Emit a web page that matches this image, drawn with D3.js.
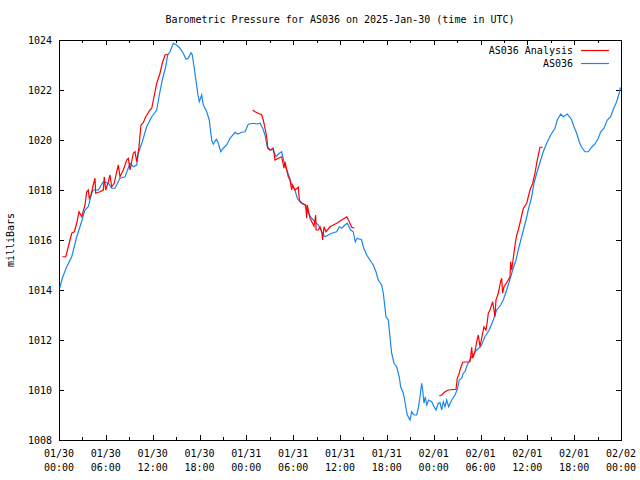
<!DOCTYPE html>
<html><head><meta charset="utf-8">
<script src="https://cdn.jsdelivr.net/npm/d3@7"></script>
<style>
body{margin:0;background:#fff;}
svg text{font-family:"DejaVu Sans Mono",monospace;font-size:10px;fill:#000;}
</style></head>
<body><svg id="c" width="640" height="480"></svg>
<script>
// Hours since 2025-01-30 00:00 UTC
const xTickHours = [0,6,12,18,24,30,36,42,48,54,60,66,72];
const xTickDates = ["01/30","01/30","01/30","01/30","01/31","01/31","01/31","01/31","02/01","02/01","02/01","02/01","02/02"];
const xTickTimes = ["00:00","06:00","12:00","18:00","00:00","06:00","12:00","18:00","00:00","06:00","12:00","18:00","00:00"];
const yTicks = [1008,1010,1012,1014,1016,1018,1020,1022,1024];

const stationHours = [0.13,0.42,0.99,1.63,2.27,2.69,3.33,3.75,4.19,4.39,5.03,5.68,6.32,6.75,7.17,7.81,8.46,9.10,9.52,9.95,10.16,10.67,11.23,11.88,12.52,12.81,13.23,13.67,13.93,14.22,14.64,15.08,15.50,15.92,16.27,16.56,16.91,17.08,17.42,17.77,17.97,18.28,18.49,18.92,19.25,19.56,19.77,20.15,20.41,20.72,21.05,21.48,21.91,22.55,22.89,23.41,23.83,24.25,24.89,25.40,25.75,26.10,26.39,26.68,27.03,27.45,27.80,28.22,28.53,28.82,29.17,29.50,29.81,30.23,30.53,30.87,31.51,31.94,32.37,32.80,33.22,33.65,34.08,34.50,34.93,35.58,35.91,36.22,36.64,36.93,37.37,37.70,37.96,38.21,38.78,38.98,39.42,39.84,40.26,40.61,40.90,41.34,41.55,41.89,42.19,42.40,42.62,42.92,43.26,43.59,43.77,44.11,44.32,44.62,44.97,45.18,45.48,45.82,46.03,46.25,46.46,46.59,46.76,46.93,47.11,47.36,47.75,48.04,48.30,48.59,48.81,49.03,49.23,49.45,49.67,49.92,50.31,50.73,51.03,51.28,51.59,51.79,52.01,52.30,52.87,53.51,54.02,54.57,55.12,55.64,56.07,56.58,56.92,57.35,57.69,58.12,58.55,58.84,59.27,59.83,60.12,60.56,60.85,61.20,61.62,62.04,62.48,62.99,63.54,63.84,64.27,64.61,65.12,65.46,65.68,65.98,66.32,66.65,66.96,67.38,67.81,68.24,68.66,69.09,69.40,69.82,70.24,70.68,71.01,71.45,71.78,71.93];
const stationPressure = [1014.1,1014.47,1014.93,1015.33,1016.13,1016.53,1017.2,1017.33,1017.87,1018.0,1018.0,1018.33,1018.27,1018.07,1018.07,1018.47,1018.53,1019.07,1018.93,1019.0,1019.47,1019.93,1020.53,1020.93,1021.2,1021.73,1022.4,1022.93,1023.4,1023.53,1023.87,1023.8,1023.67,1023.47,1023.23,1023.27,1023.49,1023.4,1022.67,1021.87,1021.53,1021.8,1021.4,1021.13,1020.8,1020.0,1019.83,1020.03,1019.87,1019.53,1019.67,1019.8,1020.07,1020.31,1020.24,1020.31,1020.33,1020.63,1020.67,1020.64,1020.67,1020.47,1020.2,1019.73,1019.6,1019.6,1019.33,1019.47,1019.53,1019.13,1018.8,1018.53,1018.2,1018.0,1017.67,1017.53,1017.4,1017.07,1016.87,1016.73,1016.6,1016.33,1016.13,1016.2,1016.27,1016.33,1016.53,1016.47,1016.6,1016.67,1016.4,1016.33,1015.93,1016.07,1016.0,1015.73,1015.4,1015.2,1015.0,1014.73,1014.4,1014.2,1013.87,1012.93,1012.8,1012.13,1011.47,1011.07,1010.93,1010.53,1010.13,1009.87,1009.53,1009.0,1008.8,1009.13,1009.0,1009.0,1009.27,1009.73,1010.27,1010.0,1009.47,1009.73,1009.4,1009.6,1009.53,1009.33,1009.2,1009.47,1009.5,1009.2,1009.53,1009.33,1009.6,1009.33,1009.6,1009.8,1010.03,1010.4,1010.47,1010.67,1010.73,1011.0,1011.33,1011.6,1011.73,1012.13,1012.4,1012.8,1013.2,1013.4,1013.6,1014.0,1014.33,1014.8,1015.2,1015.6,1016.13,1016.8,1017.2,1017.73,1018.27,1018.67,1019.1,1019.53,1019.87,1020.2,1020.47,1020.8,1021.04,1020.93,1021.04,1020.91,1020.8,1020.53,1020.27,1019.93,1019.71,1019.53,1019.53,1019.71,1019.84,1020.07,1020.33,1020.47,1020.8,1020.93,1021.23,1021.53,1021.89,1022.1];

// Analysis series; null marks a gap between segments
const analysisHours = [0.42,0.86,1.19,1.63,1.96,2.27,2.56,2.91,3.33,3.55,3.75,3.88,4.10,4.39,4.61,4.70,5.25,5.68,5.80,5.98,6.32,6.53,6.75,7.08,7.39,7.60,7.81,8.24,8.67,8.88,9.10,9.52,9.74,9.95,10.25,10.50,10.80,11.11,11.66,11.88,12.17,12.52,12.94,13.23,13.58,13.93,
  19.0,
  24.81,25.11,25.53,25.97,26.17,26.39,26.61,26.74,27.03,27.45,27.67,28.09,28.53,28.66,28.82,28.95,29.37,29.59,29.81,29.94,30.23,30.66,30.79,31.09,31.60,31.73,31.81,32.16,32.67,32.89,32.93,33.22,33.44,33.65,33.78,33.95,34.20,34.72,35.58,36.22,36.86,37.19,37.50,37.83,
  43.0,
  48.72,49.03,49.45,49.87,50.86,51.03,51.28,51.37,51.72,52.65,52.87,52.99,53.29,53.51,53.72,53.93,54.15,54.44,54.70,54.87,55.00,55.22,55.56,55.86,55.98,56.28,56.58,56.71,56.84,57.01,57.43,57.78,57.87,58.00,58.20,58.42,58.64,58.84,59.15,59.49,59.92,60.34,60.69,60.98,61.27,61.62,61.96];
const analysisPressure = [1015.33,1015.33,1015.73,1016.27,1016.33,1016.67,1017.13,1016.93,1017.4,1017.93,1018.0,1017.67,1017.8,1018.2,1018.47,1017.87,1017.93,1018.0,1018.53,1018.0,1018.33,1018.6,1018.13,1018.27,1018.73,1019.0,1018.53,1018.8,1019.2,1019.27,1018.8,1019.47,1019.53,1019.13,1019.73,1020.6,1020.69,1020.93,1021.2,1021.27,1021.73,1022.27,1022.67,1023.07,1023.4,1023.43,
  null,
  1021.2,1021.13,1021.07,1021.0,1020.8,1020.47,1020.13,1019.67,1019.6,1019.67,1019.2,1019.27,1019.33,1019.13,1018.87,1019.13,1018.53,1018.4,1018.0,1018.2,1018.0,1018.11,1017.6,1017.47,1017.4,1016.87,1017.4,1016.87,1016.56,1017.0,1016.4,1016.4,1016.53,1016.33,1016.0,1016.53,1016.33,1016.53,1016.67,1016.8,1016.93,1016.73,1016.51,1016.47,
  null,
  1009.77,1009.8,1009.93,1010.0,1010.03,1010.47,1010.67,1010.8,1011.11,1011.13,1011.71,1011.27,1011.53,1011.93,1012.2,1011.73,1012.07,1012.53,1012.4,1012.73,1013.07,1013.2,1013.53,1012.93,1013.6,1013.87,1014.33,1014.47,1013.87,1014.13,1014.33,1014.53,1015.13,1014.8,1015.27,1015.8,1016.2,1016.4,1016.8,1017.27,1017.47,1018.0,1018.27,1018.67,1019.2,1019.71,1019.71];

const seriesNames = ["AS036 Analysis","AS036"];
const seriesColors = ["#ff0000","#1a86ee"];

const L=59, R=621, T=40, B=440;
const svg = d3.select("#c");
const x = d3.scaleLinear().domain([0,72]).range([L,R]);
const y = d3.scaleLinear().domain([1008,1024]).range([B,T]);

const minorHours = d3.range(3,72,6);

// axes with inward ticks
svg.append("g").attr("transform",`translate(0,${B})`)
  .call(d3.axisBottom(x).tickValues(xTickHours).tickSize(-5).tickFormat(""));
svg.append("g").attr("transform",`translate(0,${B})`)
  .call(d3.axisBottom(x).tickValues(minorHours).tickSize(-3).tickFormat(""));
svg.append("g").attr("transform",`translate(0,${T})`)
  .call(d3.axisTop(x).tickValues(xTickHours).tickSize(-5).tickFormat(""));
svg.append("g").attr("transform",`translate(0,${T})`)
  .call(d3.axisTop(x).tickValues(minorHours).tickSize(-3).tickFormat(""));
const gL = svg.append("g").attr("transform",`translate(${L},0)`)
  .call(d3.axisLeft(y).tickValues(yTicks).tickSize(-5).tickPadding(7).tickFormat(d3.format("d")));
svg.append("g").attr("transform",`translate(${R},0)`)
  .call(d3.axisRight(y).tickValues(yTicks).tickSize(-5).tickFormat(""));
svg.selectAll(".domain").remove();
svg.selectAll(".tick line").attr("stroke","#000").attr("shape-rendering","crispEdges");
gL.selectAll("text").style("font-family",'"DejaVu Sans Mono",monospace').style("font-size","10px");

// x labels (two lines)
const xl = svg.append("g");
xTickHours.forEach((h,i)=>{
  const t = xl.append("text").attr("text-anchor","middle").attr("x",x(h));
  t.append("tspan").attr("x",x(h)).attr("y",457).text(xTickDates[i]);
  t.append("tspan").attr("x",x(h)).attr("y",471).text(xTickTimes[i]);
});

// frame
svg.append("rect").attr("x",L).attr("y",T).attr("width",R-L).attr("height",B-T)
  .attr("fill","none").attr("stroke","#000").attr("shape-rendering","crispEdges");

// lines
const line = d3.line().defined(d=>d[1]!==null).x(d=>x(d[0])).y(d=>y(d[1]));
svg.append("path").datum(stationHours.map((h,i)=>[h,stationPressure[i]]))
  .attr("d",line).attr("fill","none").attr("stroke",seriesColors[1]).attr("stroke-width",1.2);
svg.append("path").datum(analysisHours.map((h,i)=>[h,analysisPressure[i]]))
  .attr("d",line).attr("fill","none").attr("stroke",seriesColors[0]).attr("stroke-width",1.2);

// title
svg.append("text").attr("x",(L+R)/2).attr("y",23).attr("text-anchor","middle")
  .text("Barometric Pressure for AS036 on 2025-Jan-30 (time in UTC)");
// y label
svg.append("text").attr("transform","translate(14,240) rotate(-90)").attr("text-anchor","middle")
  .text("milliBars");

// legend
seriesNames.forEach((n,i)=>{
  const yy = 50 + i*13;
  svg.append("text").attr("x",573).attr("y",yy+3.5).attr("text-anchor","end").text(n);
  svg.append("line").attr("x1",581).attr("x2",609).attr("y1",yy+0.5).attr("y2",yy+0.5)
    .attr("stroke",seriesColors[i]).attr("stroke-width",1.2);
});
</script></body></html>
